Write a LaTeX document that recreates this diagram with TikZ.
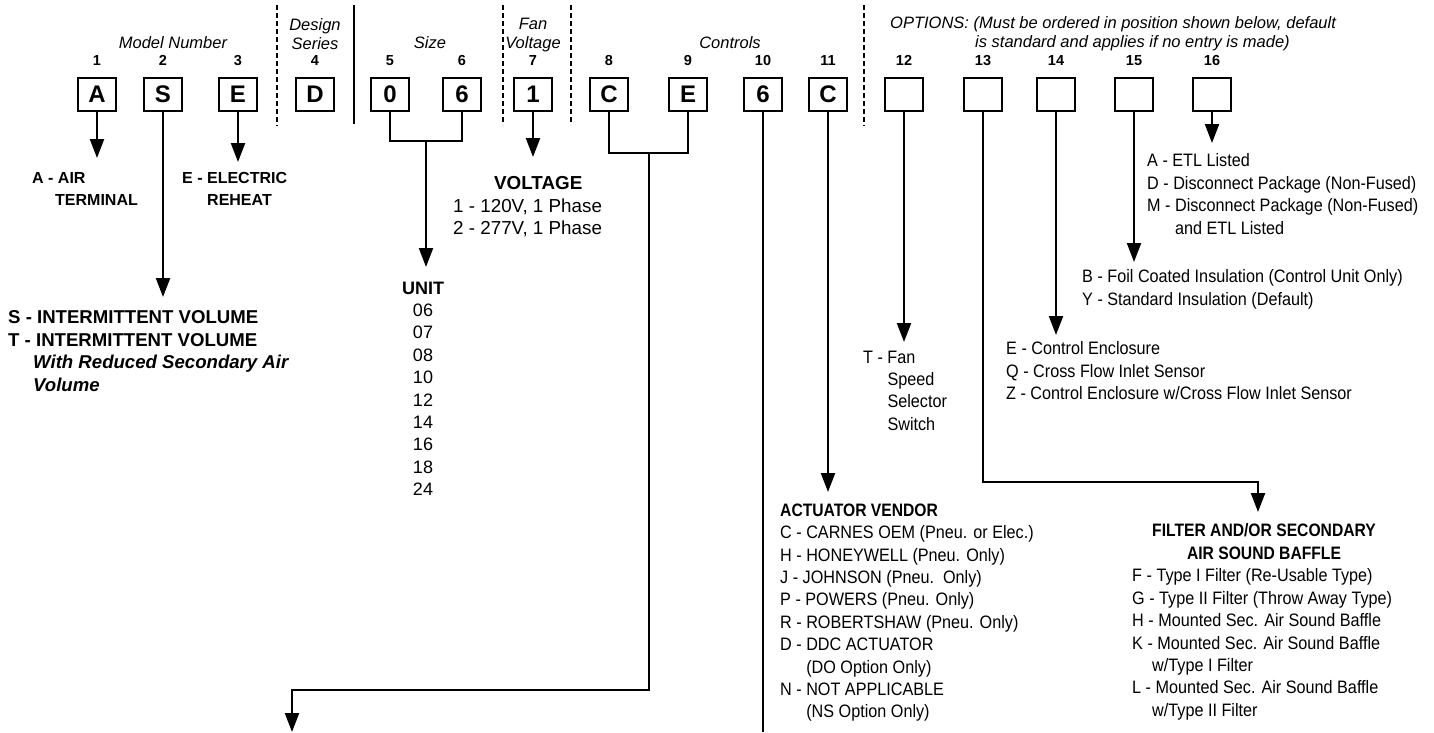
\documentclass[tikz,border=0pt]{standalone}
\usepackage{fontspec}
\setmainfont{Liberation Sans}
\newfontfamily\nar[FakeStretch=0.9]{Liberation Sans}
\newfontfamily\narb[FakeStretch=0.87]{Liberation Sans}
\usetikzlibrary{arrows.meta}
\tikzset{
  codebox/.style={draw, line width=2.4pt, minimum width=38pt, minimum height=33pt, inner sep=0pt,
    font=\fontsize{24}{24}\selectfont\bfseries},
  posnum/.style={inner sep=0pt, anchor=base, font=\fontsize{14.5}{14.5}\selectfont\bfseries},
  grouplbl/.style={inner sep=0pt, align=center, font=\fontsize{16.5}{19}\selectfont\itshape},
  conn/.style={line width=2.2pt},
  arr/.style={line width=2.2pt, -{Triangle[width=14pt,length=19pt]}},
  dsep/.style={line width=2.5pt, dash pattern=on 5pt off 3pt},
  ssep/.style={line width=2.5pt},
  boldlist/.style={inner sep=0pt, anchor=north west, align=left, font=\fontsize{16}{22}\selectfont\bfseries},
  reglist/.style={inner sep=0pt, align=left, font=\fontsize{18}{22.4}\selectfont},
  narlist/.style={inner sep=0pt, anchor=north west, align=left, font=\fontsize{18}{22.4}\selectfont\nar},
}
\begin{document}
\begin{tikzpicture}[x=1pt,y=-1pt]
\fill[white] (0,0) rectangle (1434,732);
\useasboundingbox (0,0) rectangle (1434,732);

% group labels
\node[grouplbl, anchor=base] (gModel) at (173,48.9) {Model Number};
\node[grouplbl, anchor=north] (gDesign) at (315,18.1) {Design\\Series};
\node[grouplbl, anchor=base] (gSize) at (430,48.9) {Size};
\node[grouplbl, anchor=north] (gFan) at (533,18.1) {Fan\\Voltage};
\node[grouplbl, anchor=base] (gCtrl) at (730,48.9) {Controls};
\node[grouplbl, anchor=north west, align=left] (gOpt) at (890,16.1)
  {OPTIONS: (Must be ordered in position shown below, default\\\hspace*{85pt}is standard and applies if no entry is made)};

% separators
\draw[dsep] (277,5) -- (277,126);
\draw[ssep] (354,5) -- (354,124);
\draw[dsep] (503,5) -- (503,125);
\draw[dsep] (571,5) -- (571,125);
\draw[dsep] (864,5) -- (864,126);

% position numbers and boxes
\foreach \n/\x/\t in {1/97/A, 2/163/S, 3/238/E, 4/315/D, 5/390/0, 6/462/6, 7/533/1, 8/609/C,
                      9/688/E, 10/763/6, 11/828/C, 12/904/{}, 13/983/{}, 14/1056/{}, 15/1134/{}, 16/1212/{}}{
  \node[posnum] (n\n) at (\x,65.2) {\n};
  \node[codebox] (b\n) at (\x,94.5) {\t};
}

% coordinates for connector ends
\coordinate (t1) at (97,158);
\coordinate (t2) at (163,297);
\coordinate (t3) at (238,162);
\coordinate (j56) at (426,141);
\coordinate (t56) at (426,267);
\coordinate (t7) at (533,157);
\coordinate (j89) at (649,153);
\coordinate (c89) at (292,690);
\coordinate (t89) at (292,732);
\coordinate (e10) at (763,732);
\coordinate (t11) at (828,492);
\coordinate (t12) at (904,342);
\coordinate (c13) at (1258,482);
\coordinate (t13) at (1258,512);
\coordinate (t14) at (1056,335);
\coordinate (t15) at (1134,262);
\coordinate (t16) at (1212,143);

% connectors
\draw[arr] (b1) -- (t1);
\draw[arr] (b2) -- (t2);
\draw[arr] (b3) -- (t3);
\draw[conn] (b5.south) |- (j56) -| (b6.south);
\draw[arr] (j56) -- (t56);
\draw[arr] (b7) -- (t7);
\draw[conn] (b8.south) |- (j89) -| (b9.south);
\draw[arr] (j89) |- (c89) -- (t89);
\draw[conn] (b10) -- (e10);
\draw[arr] (b11) -- (t11);
\draw[arr] (b12) -- (t12);
\draw[arr] (b13.south) |- (c13) -- (t13);
\draw[arr] (b14) -- (t14);
\draw[arr] (b15) -- (t15);
\draw[arr] (b16) -- (t16);

% descriptions
\node[boldlist] (dA) at (32,172.3) {A - AIR\\\hspace*{23pt}TERMINAL};
\node[boldlist] (dE) at (182,172.3) {E - ELECTRIC\\\hspace*{25pt}REHEAT};
\node[inner sep=0pt, anchor=north west, align=left, font=\fontsize{18.6}{22.7}\selectfont\bfseries] (dS) at (8,310.4)
  {S - INTERMITTENT VOLUME\\T - INTERMITTENT VOLUME\\\hspace*{25pt}\textit{With Reduced Secondary Air}\\\hspace*{25pt}\textit{Volume}};
\node[reglist, anchor=north, align=center] (dUnit) at (423,281.6)
  {\textbf{UNIT}\\06\\07\\08\\10\\12\\14\\16\\18\\24};
\node[inner sep=0pt, align=left, anchor=north west, font=\fontsize{18.8}{22.4}\selectfont] (dVolt) at (453,176.4)
  {\hspace*{41pt}\textbf{VOLTAGE}\\1 - 120V, 1 Phase\\2 - 277V, 1 Phase};
\node[narlist] (dFan) at (863,350.6)
  {T - Fan\\\phantom{T - }Speed\\\phantom{T - }Selector\\\phantom{T - }Switch};
\node[narlist] (d14) at (1006,341.6)
  {E - Control Enclosure\\Q - Cross Flow Inlet Sensor\\Z - Control Enclosure w/Cross Flow Inlet Sensor};
\node[narlist] (d15) at (1082,269.6)
  {B - Foil Coated Insulation (Control Unit Only)\\Y - Standard Insulation (Default)};
\node[narlist] (d16) at (1147,153.6)
  {A - ETL Listed\\D - Disconnect Package (Non-Fused)\\M - Disconnect Package (Non-Fused)\\\phantom{M - }and ETL Listed};
\node[narlist] (dAct) at (780,503.6)
  {{\narb\bfseries ACTUATOR VENDOR}\\C - CARNES OEM (Pneu. or Elec.)\\H - HONEYWELL (Pneu. Only)\\J - JOHNSON (Pneu.\ \ Only)\\P - POWERS (Pneu. Only)\\R - ROBERTSHAW (Pneu. Only)\\D - DDC ACTUATOR\\\phantom{D - }(DO Option Only)\\N - NOT APPLICABLE\\\phantom{N - }(NS Option Only)};
\node[inner sep=0pt, anchor=north, align=center, font=\fontsize{18}{22.4}\selectfont\narb\bfseries] (dFiltH) at (1264,523.6)
  {FILTER AND/OR SECONDARY\\AIR SOUND BAFFLE};
\node[narlist] (dFilt) at (1132,568.6)
  {F - Type I Filter (Re-Usable Type)\\G - Type II Filter (Throw Away Type)\\H - Mounted Sec. Air Sound Baffle\\K - Mounted Sec. Air Sound Baffle\\\hspace*{20pt}w/Type I Filter\\L - Mounted Sec. Air Sound Baffle\\\hspace*{20pt}w/Type II Filter};
\end{tikzpicture}
\end{document}
